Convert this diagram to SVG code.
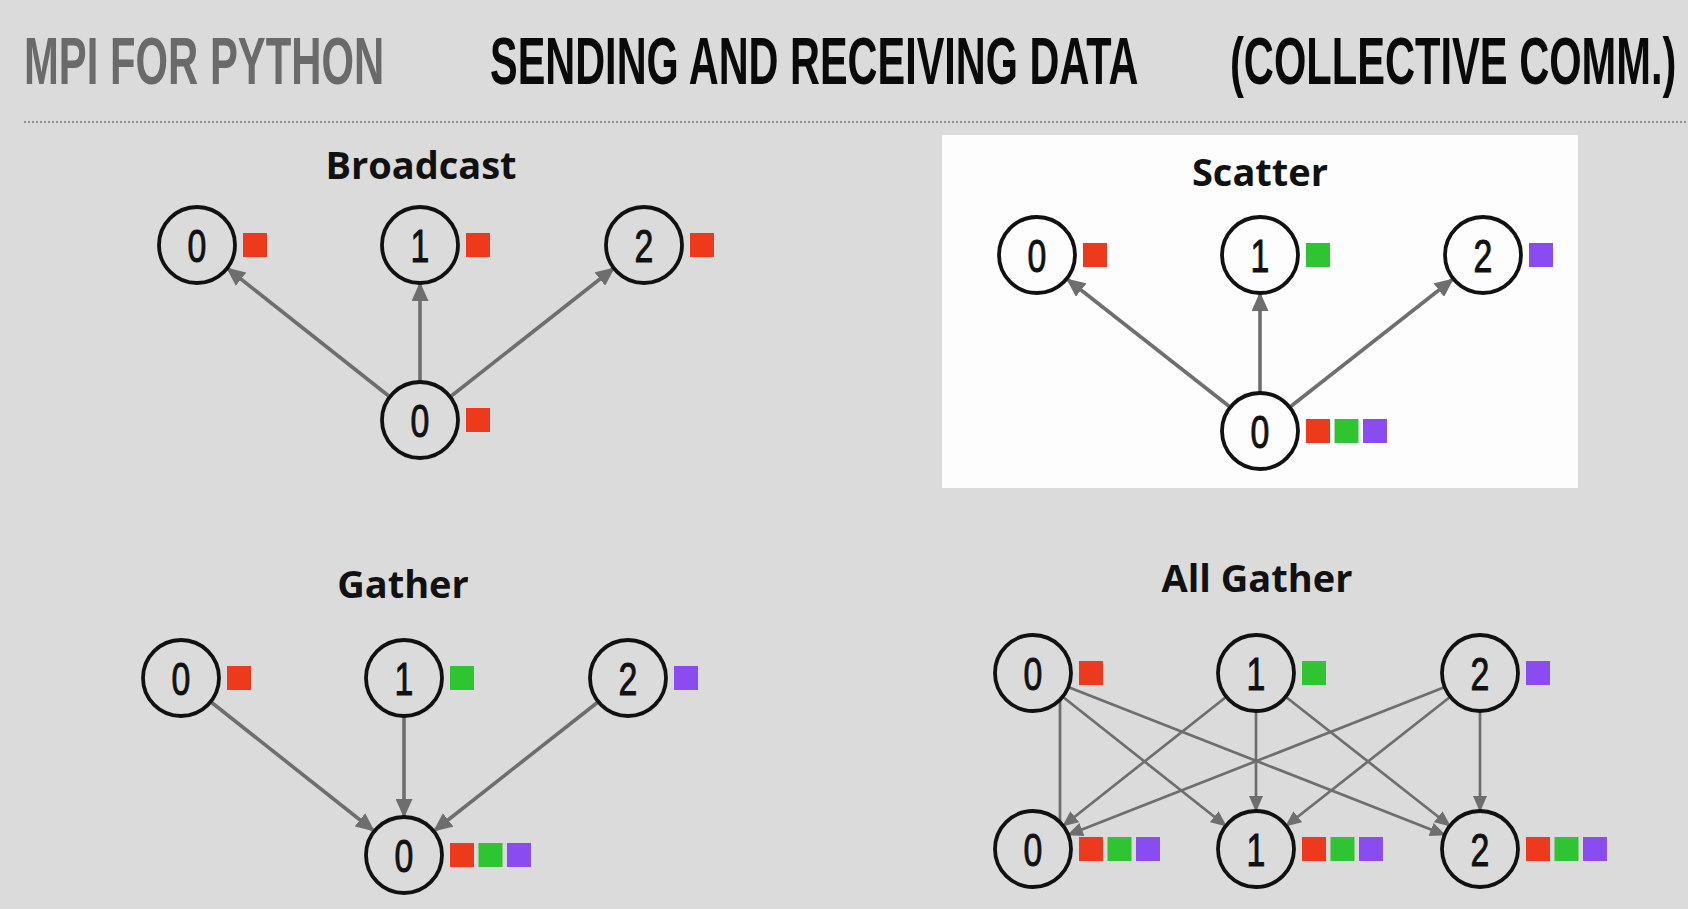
<svg xmlns="http://www.w3.org/2000/svg" width="1688" height="909" viewBox="0 0 1688 909">
<defs>
<style>
.hdr{font-family:"Liberation Sans",Arial,sans-serif;font-size:66px;font-weight:700}
.sec{font-family:"Open Sans","Liberation Sans",sans-serif;font-weight:700;font-size:38px;fill:#111}
.node circle{fill:none;stroke:#111;stroke-width:3.8}
.node text{font-family:"Liberation Sans",Arial,sans-serif;font-size:47px;fill:#111;stroke:#111;stroke-width:1;text-anchor:middle}
.r{fill:#ee3a1c}.g{fill:#2fc431}.p{fill:#8a4cf0}
.conn line{stroke:#6e6e6e;stroke-width:3.6;fill:none}
.conn2 line{stroke:#6e6e6e;stroke-width:2.7;fill:none}
</style>
<marker id="ah" viewBox="0 0 19 17" refX="18" refY="8.5" markerWidth="19" markerHeight="17" markerUnits="userSpaceOnUse" orient="auto">
<path d="M0,0 L19,8.5 L0,17 z" fill="#6e6e6e"/>
</marker>
<marker id="ah2" viewBox="0 0 16 14" refX="15" refY="7" markerWidth="16" markerHeight="14" markerUnits="userSpaceOnUse" orient="auto">
<path d="M0,0 L16,7 L0,14 z" fill="#6e6e6e"/>
</marker>
</defs>
<rect width="1688" height="909" fill="#dbdbdb"/>

<g id="header">
<text class="hdr" transform="translate(24,84) scale(0.634,1)" fill="#6a6a6a">MPI FOR PYTHON</text>
<text class="hdr" transform="translate(490,84) scale(0.628,1)" fill="#0a0a0a">SENDING AND RECEIVING DATA</text>
<text class="hdr" transform="translate(1230,84) scale(0.631,1)" fill="#0a0a0a">(COLLECTIVE COMM.)</text>
<line x1="24" y1="122" x2="1688" y2="122" stroke="#8f8f8f" stroke-width="2" stroke-dasharray="2 2"/>
</g>

<rect id="scatter-panel" x="942" y="135" width="636" height="353" fill="#fdfdfd"/>

<!-- Section titles -->
<text id="t-broadcast" class="sec" x="421" y="179" text-anchor="middle">Broadcast</text>
<text id="t-scatter" class="sec" x="1260" y="186" text-anchor="middle">Scatter</text>
<text id="t-gather" class="sec" x="403" y="598" text-anchor="middle">Gather</text>
<text id="t-allgather" class="sec" x="1257" y="592" text-anchor="middle">All Gather</text>

<!-- Connectors -->
<g id="connectors">
<g class="conn">
<line x1="390" y1="397" x2="227" y2="268" marker-end="url(#ah)"/>
<line x1="420" y1="382" x2="420" y2="283" marker-end="url(#ah)"/>
<line x1="450" y1="397" x2="614" y2="268" marker-end="url(#ah)"/>

<line x1="1230" y1="407" x2="1067" y2="279" marker-end="url(#ah)"/>
<line x1="1260" y1="393" x2="1260" y2="293" marker-end="url(#ah)"/>
<line x1="1290" y1="407" x2="1453" y2="279" marker-end="url(#ah)"/>

<line x1="211" y1="702" x2="374" y2="831" marker-end="url(#ah)"/>
<line x1="404" y1="716" x2="404" y2="817" marker-end="url(#ah)"/>
<line x1="598" y1="702" x2="434" y2="831" marker-end="url(#ah)"/>
</g>
<g class="conn2">
<line x1="1060" y1="700" x2="1060" y2="822"/>
<line x1="1256" y1="711" x2="1256" y2="811" marker-end="url(#ah2)"/>
<line x1="1480" y1="711" x2="1480" y2="811" marker-end="url(#ah2)"/>
<line x1="1063" y1="697" x2="1226" y2="826" marker-end="url(#ah2)"/>
<line x1="1286" y1="697" x2="1450" y2="826" marker-end="url(#ah2)"/>
<line x1="1226" y1="697" x2="1063" y2="826" marker-end="url(#ah2)"/>
<line x1="1450" y1="697" x2="1286" y2="826" marker-end="url(#ah2)"/>
<line x1="1068" y1="687" x2="1445" y2="835" marker-end="url(#ah2)"/>
<line x1="1445" y1="687" x2="1068" y2="835" marker-end="url(#ah2)"/>
</g>
</g>

<!-- Broadcast nodes -->
<g id="bc-top0" class="node" transform="translate(197,245)"><circle r="38"/><text transform="scale(0.72,1)" y="17">0</text><rect class="r" x="46" y="-12" width="24" height="24"/></g>
<g id="bc-top1" class="node" transform="translate(420,245)"><circle r="38"/><text transform="scale(0.72,1)" y="17">1</text><rect class="r" x="46" y="-12" width="24" height="24"/></g>
<g id="bc-top2" class="node" transform="translate(644,245)"><circle r="38"/><text transform="scale(0.72,1)" y="17">2</text><rect class="r" x="46" y="-12" width="24" height="24"/></g>
<g id="bc-root" class="node" transform="translate(420,420)"><circle r="38"/><text transform="scale(0.72,1)" y="17">0</text><rect class="r" x="46" y="-12" width="24" height="24"/></g>

<!-- Scatter nodes -->
<g id="sc-top0" class="node" transform="translate(1037,255)"><circle r="38"/><text transform="scale(0.72,1)" y="17">0</text><rect class="r" x="46" y="-12" width="24" height="24"/></g>
<g id="sc-top1" class="node" transform="translate(1260,255)"><circle r="38"/><text transform="scale(0.72,1)" y="17">1</text><rect class="g" x="46" y="-12" width="24" height="24"/></g>
<g id="sc-top2" class="node" transform="translate(1483,255)"><circle r="38"/><text transform="scale(0.72,1)" y="17">2</text><rect class="p" x="46" y="-12" width="24" height="24"/></g>
<g id="sc-root" class="node" transform="translate(1260,431)"><circle r="38"/><text transform="scale(0.72,1)" y="17">0</text><rect class="r" x="46" y="-12" width="24" height="24"/><rect class="g" x="74.5" y="-12" width="24" height="24"/><rect class="p" x="103" y="-12" width="24" height="24"/></g>

<!-- Gather nodes -->
<g id="ga-top0" class="node" transform="translate(181,678)"><circle r="38"/><text transform="scale(0.72,1)" y="17">0</text><rect class="r" x="46" y="-12" width="24" height="24"/></g>
<g id="ga-top1" class="node" transform="translate(404,678)"><circle r="38"/><text transform="scale(0.72,1)" y="17">1</text><rect class="g" x="46" y="-12" width="24" height="24"/></g>
<g id="ga-top2" class="node" transform="translate(628,678)"><circle r="38"/><text transform="scale(0.72,1)" y="17">2</text><rect class="p" x="46" y="-12" width="24" height="24"/></g>
<g id="ga-root" class="node" transform="translate(404,855)"><circle r="38"/><text transform="scale(0.72,1)" y="17">0</text><rect class="r" x="46" y="-12" width="24" height="24"/><rect class="g" x="74.5" y="-12" width="24" height="24"/><rect class="p" x="103" y="-12" width="24" height="24"/></g>

<!-- All Gather nodes -->
<g id="ag-top0" class="node" transform="translate(1033,673)"><circle r="38"/><text transform="scale(0.72,1)" y="17">0</text><rect class="r" x="46" y="-12" width="24" height="24"/></g>
<g id="ag-top1" class="node" transform="translate(1256,673)"><circle r="38"/><text transform="scale(0.72,1)" y="17">1</text><rect class="g" x="46" y="-12" width="24" height="24"/></g>
<g id="ag-top2" class="node" transform="translate(1480,673)"><circle r="38"/><text transform="scale(0.72,1)" y="17">2</text><rect class="p" x="46" y="-12" width="24" height="24"/></g>
<g id="ag-bot0" class="node" transform="translate(1033,849)"><circle r="38"/><text transform="scale(0.72,1)" y="17">0</text><rect class="r" x="46" y="-12" width="24" height="24"/><rect class="g" x="74.5" y="-12" width="24" height="24"/><rect class="p" x="103" y="-12" width="24" height="24"/></g>
<g id="ag-bot1" class="node" transform="translate(1256,849)"><circle r="38"/><text transform="scale(0.72,1)" y="17">1</text><rect class="r" x="46" y="-12" width="24" height="24"/><rect class="g" x="74.5" y="-12" width="24" height="24"/><rect class="p" x="103" y="-12" width="24" height="24"/></g>
<g id="ag-bot2" class="node" transform="translate(1480,849)"><circle r="38"/><text transform="scale(0.72,1)" y="17">2</text><rect class="r" x="46" y="-12" width="24" height="24"/><rect class="g" x="74.5" y="-12" width="24" height="24"/><rect class="p" x="103" y="-12" width="24" height="24"/></g>
</svg>
